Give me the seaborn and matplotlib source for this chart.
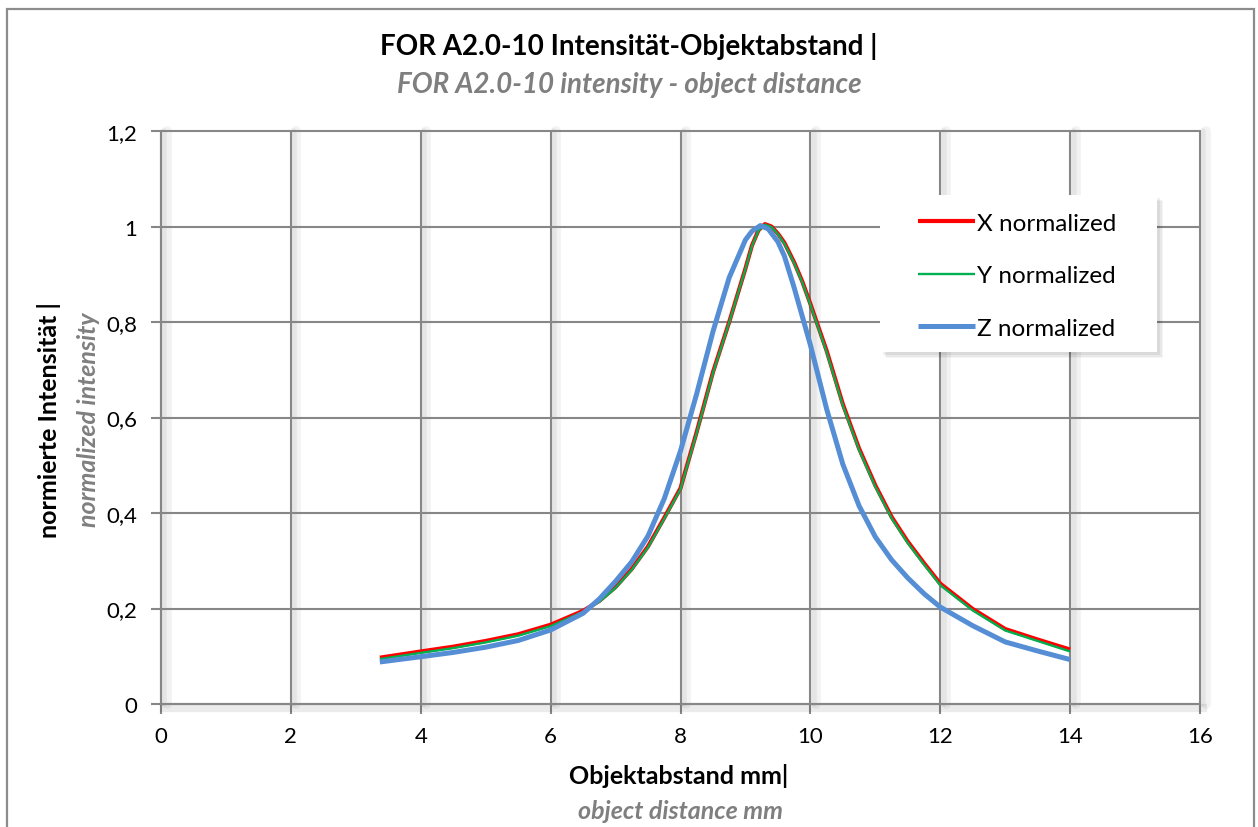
import numpy as np
import pandas as pd
import matplotlib
matplotlib.use("Agg")
import matplotlib.pyplot as plt
import matplotlib.patheffects as pe
from matplotlib.patches import Rectangle
from matplotlib.ticker import FixedLocator, FixedFormatter
import seaborn as sns

# ---------------- data ----------------
x_x = [3.37, 4.0, 4.5, 5.0, 5.5, 6.0, 6.5, 6.75, 7.0, 7.25, 7.5, 7.75, 8.0, 8.25,
       8.5, 8.75, 9.0, 9.1, 9.2, 9.3, 9.4, 9.5, 9.6, 9.75, 9.875, 10.0, 10.25,
       10.5, 10.75, 11.0, 11.25, 11.5, 11.75, 12.0, 12.5, 13.0, 13.5, 14.0]
x_norm = [0.097, 0.110, 0.120, 0.132, 0.146, 0.166, 0.195, 0.216, 0.245, 0.283,
          0.330, 0.390, 0.452, 0.570, 0.695, 0.800, 0.912, 0.960, 0.992, 1.005,
          1.000, 0.985, 0.966, 0.925, 0.885, 0.838, 0.740, 0.628, 0.535, 0.458,
          0.392, 0.340, 0.295, 0.252, 0.199, 0.157, 0.135, 0.114]
y_norm = [0.094, 0.107, 0.117, 0.129, 0.143, 0.163, 0.193, 0.214, 0.243, 0.281,
          0.328, 0.388, 0.450, 0.568, 0.693, 0.799, 0.911, 0.959, 0.991, 1.004,
          0.999, 0.984, 0.964, 0.923, 0.883, 0.836, 0.737, 0.625, 0.532, 0.455,
          0.389, 0.337, 0.292, 0.249, 0.196, 0.154, 0.132, 0.110]
x_z = [3.37, 4.0, 4.5, 5.0, 5.5, 6.0, 6.5, 6.75, 7.0, 7.25, 7.5, 7.75, 8.0, 8.25,
       8.5, 8.75, 9.0, 9.1, 9.23, 9.35, 9.5, 9.6, 9.75, 10.0, 10.25, 10.5, 10.75,
       11.0, 11.25, 11.5, 11.75, 12.0, 12.5, 13.0, 13.5, 14.0]
z_norm = [0.088, 0.099, 0.108, 0.119, 0.133, 0.155, 0.190, 0.220, 0.257, 0.298,
          0.352, 0.430, 0.530, 0.650, 0.780, 0.893, 0.972, 0.990, 1.002, 0.995,
          0.968, 0.938, 0.872, 0.752, 0.618, 0.502, 0.415, 0.350, 0.302, 0.264,
          0.231, 0.203, 0.164, 0.130, 0.111, 0.093]

series_labels = ["X normalized", "Y normalized", "Z normalized"]
series_colors = ["#FF0000", "#00B050", "#558ED5"]
xtick_values = [0, 2, 4, 6, 8, 10, 12, 14, 16]
xtick_labels = ["0", "2", "4", "6", "8", "10", "12", "14", "16"]
ytick_values = [0, 0.2, 0.4, 0.6, 0.8, 1.0, 1.2]
ytick_labels = ["0", "0,2", "0,4", "0,6", "0,8", "1", "1,2"]

title_de = "FOR A2.0-10 Intensität-Objektabstand |"
title_en = "FOR A2.0-10 intensity - object distance"
xlabel_de = "Objektabstand mm|"
xlabel_en = "object distance mm"
ylabel_de = "normierte Intensität |"
ylabel_en = "normalized intensity"

# ---------------- figure ----------------
sns.set_theme(style="white")
plt.rcParams["font.family"] = ["Lato", "DejaVu Sans"]

W, H = 1258, 828
fig = plt.figure(figsize=(W / 100, H / 100), dpi=100)
fig.patch.set_facecolor("white")

L, R, T, B = 161, 1200, 132, 705
ax = fig.add_axes([L / W, 1 - B / H, (R - L) / W, (B - T) / H])
ax.set_facecolor("white")

grid_c = "#878787"

df_x = pd.DataFrame({"dist": x_x, "val": x_norm})
df_y = pd.DataFrame({"dist": x_x, "val": y_norm})
df_z = pd.DataFrame({"dist": x_z, "val": z_norm})

sns.lineplot(data=df_x, x="dist", y="val", ax=ax, color=series_colors[0],
             lw=3.0, label=series_labels[0], sort=False, zorder=5)
sns.lineplot(data=df_y, x="dist", y="val", ax=ax, color=series_colors[1],
             lw=1.7, label=series_labels[1], sort=False, zorder=6)
sns.lineplot(data=df_z, x="dist", y="val", ax=ax, color=series_colors[2],
             lw=3.6, label=series_labels[2], sort=False, zorder=7)

for ln in ax.get_lines():
    ln.set_solid_capstyle("butt")
    ln.set_solid_joinstyle("round")

ax.set_xlim(0, 16)
ax.set_ylim(0, 1.2)
ax.xaxis.set_major_locator(FixedLocator(xtick_values))
ax.xaxis.set_major_formatter(FixedFormatter(xtick_labels))
ax.yaxis.set_major_locator(FixedLocator(ytick_values))
ax.yaxis.set_major_formatter(FixedFormatter(ytick_labels))

ax.grid(True, color=grid_c, lw=1.5, zorder=1)
ax.set_axisbelow(True)
shadow = [pe.SimpleLineShadow(offset=(4, 0), shadow_color="#000000", alpha=0.05, linewidth=7),
          pe.SimpleLineShadow(offset=(2.5, 0), shadow_color="#000000", alpha=0.05, linewidth=4),
          pe.Normal()]
for gl in ax.get_xgridlines():
    gl.set_path_effects(shadow)
    gl.set_clip_on(False)
for gl in ax.get_ygridlines():
    gl.set_clip_on(False)

for s in ["top", "right"]:
    ax.spines[s].set_visible(False)
for s in ["left", "bottom"]:
    ax.spines[s].set_color(grid_c)
    ax.spines[s].set_linewidth(1.5)
ax.spines["bottom"].set_path_effects([
    pe.SimpleLineShadow(offset=(2, -3), shadow_color="#000000", alpha=0.08, linewidth=6),
    pe.Normal()])

ax.tick_params(axis="both", which="major", direction="out", length=7, width=1.5,
               color=grid_c, labelsize=16, labelcolor="#000000")
ax.tick_params(axis="y", pad=10, left=True)
ax.tick_params(axis="x", pad=9, bottom=True)
ax.set_xlabel("")
ax.set_ylabel("")

# legend (manual frame with soft shadow)
leg = ax.legend(loc="upper left", bbox_to_anchor=(918 / W, 1 - 213.5 / H),
                bbox_transform=fig.transFigure, frameon=False, fontsize=17.5,
                handlelength=2.35, handletextpad=0.08, labelspacing=1.30,
                borderpad=0, borderaxespad=0)
for t in leg.get_texts():
    t.set_color("#000000")
leg.set_zorder(20)
for k, (off, a) in enumerate([(6, 0.04), (4.5, 0.05), (3, 0.06)]):
    sh = Rectangle(((880 + off) / W, 1 - (353 + off) / H), 277 / W, 157 / H,
                   transform=fig.transFigure, facecolor="#000000", alpha=a,
                   edgecolor="none", zorder=9, clip_on=False)
    ax.add_patch(sh)
box = Rectangle((880 / W, 1 - 353 / H), 277 / W, 157 / H, transform=fig.transFigure,
                facecolor="white", edgecolor="none", zorder=10, clip_on=False)
ax.add_patch(box)

# titles
fig.text(629 / W, 1 - 47 / H, title_de, ha="center", va="center",
         fontsize=20, fontweight="bold", color="#000000")
fig.text(629 / W, 1 - 85 / H, title_en, ha="center", va="center",
         fontsize=20, fontweight="bold", style="italic", color="#7F7F7F")

# axis labels
fig.text(679 / W, 1 - 776 / H, xlabel_de, ha="center", va="center",
         fontsize=18, fontweight="bold", color="#000000")
fig.text(681 / W, 1 - 812 / H, xlabel_en, ha="center", va="center",
         fontsize=18, fontweight="bold", style="italic", color="#7F7F7F")
fig.text(49 / W, 1 - 420 / H, ylabel_de, ha="center", va="center", rotation=90,
         fontsize=18, fontweight="bold", color="#000000")
fig.text(88 / W, 1 - 420 / H, ylabel_en, ha="center", va="center", rotation=90,
         fontsize=18, fontweight="bold", style="italic", color="#7F7F7F")

# outer chart border
border = Rectangle((7 / W, -0.05), 1247 / W, 1.05 - 10 / H, transform=fig.transFigure,
                   facecolor="none", edgecolor="#8C8C8C", lw=1.6, zorder=0)
fig.patches.append(border)

fig.savefig("out.png", dpi=100, facecolor="white")
